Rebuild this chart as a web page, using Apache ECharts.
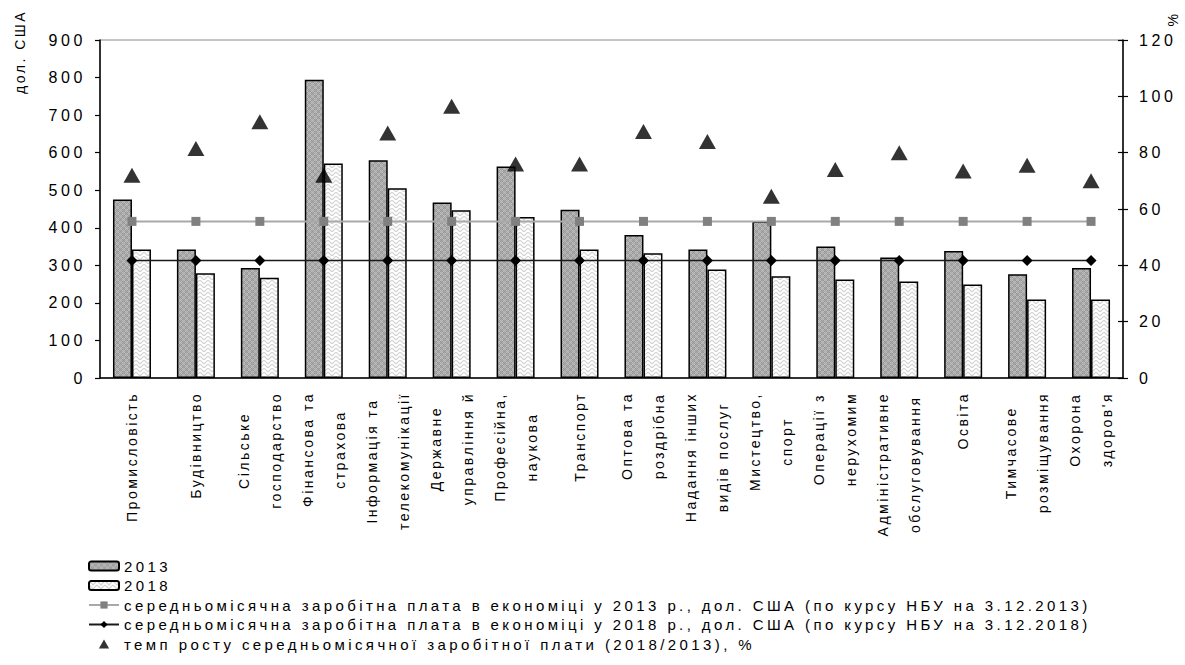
<!DOCTYPE html>
<html><head><meta charset="utf-8">
<script src="https://cdn.jsdelivr.net/npm/echarts@6/dist/echarts.min.js"></script>
<style>html,body{margin:0;padding:0;background:#fff}#chart{width:1185px;height:665px}</style>
</head><body><div id="chart"></div>
<script>
const categories = [
  'Промисловість', 'Будівництво', 'Сільське\nгосподарство', 'Фінансова та\nстрахова',
  'Інформація та\nтелекомунікації', 'Державне\nуправління й', 'Професійна,\nнаукова', 'Транспорт',
  'Оптова та\nроздрібна', 'Надання інших\nвидів послуг', 'Мистецтво,\nспорт', 'Операції з\nнерухомим',
  'Адміністративне\nобслуговування', 'Освіта', 'Тимчасове\nрозміщування', "Охорона\nздоров'я"
];
const wage2013 = [475, 342, 293, 794, 580, 467, 563, 448, 381, 342, 417, 350, 321, 338, 276, 293];
const wage2018 = [342, 279, 267, 571, 505, 447, 429, 342, 332, 289, 271, 262, 257, 249, 209, 209];
const avg2013 = [417, 417, 417, 417, 417, 417, 417, 417, 417, 417, 417, 417, 417, 417, 417, 417];
const avg2018 = [313, 313, 313, 313, 313, 313, 313, 313, 313, 313, 313, 313, 313, 313, 313, 313];
const growth = [72, 81.5, 91, 72, 87, 96.5, 76, 76, 87.5, 84, 64.5, 74, 80, 73.5, 75.5, 70];
const seriesNames = [
  '2013', '2018',
  'середньомісячна заробітна плата в економіці у 2013 р., дол. США (по курсу НБУ на 3.12.2013)',
  'середньомісячна заробітна плата в економіці у 2018 р., дол. США (по курсу НБУ на 3.12.2018)',
  'темп росту середньомісячної заробітної плати (2018/2013), %'
];
const leftAxisName = 'дол. США';
const rightAxisName = '%';

const FONT = 'Liberation Sans';
const SPACING = {14: 2.5, 15: 3.4, 16: 3.6};

function makePattern(w, h, draw) {
  const c = document.createElement('canvas');
  c.width = w; c.height = h;
  const ctx = c.getContext('2d');
  draw(ctx);
  return {image: c.toDataURL(), repeat: 'repeat', imageWidth: w, imageHeight: h};
}
const pat2013 = makePattern(6, 6, ctx => {
  ctx.fillStyle = '#aaaaaa'; ctx.fillRect(0, 0, 6, 6);
  for (let x = 0; x < 6; x++) for (let y = 0; y < 6; y++) {
    if ((x + y) % 3 === 0 || ((x - y + 6) % 3 === 0)) { ctx.fillStyle = (x + y) % 2 ? '#999999' : '#bdbdbd'; ctx.fillRect(x, y, 1, 1); }
  }
});
const pat2018 = makePattern(8, 8, ctx => {
  ctx.fillStyle = '#ffffff'; ctx.fillRect(0, 0, 8, 8);
  ctx.strokeStyle = '#d4d4d4'; ctx.lineWidth = 1.2;
  ctx.beginPath(); ctx.moveTo(0, 0); ctx.lineTo(4, 4); ctx.lineTo(8, 0);
  ctx.moveTo(0, 4); ctx.lineTo(4, 8); ctx.lineTo(8, 4); ctx.stroke();
});

// rich styles: lines of each category label centered within their (letter-spaced) block
const mctx = document.createElement('canvas').getContext('2d');
mctx.font = '14px "' + FONT + '"';
const rich = {};
categories.forEach((c, i) => {
  const lines = c.split('\n');
  const ws = lines.map(l => mctx.measureText(l).width + SPACING[14] * l.length);
  const bw = Math.max(...ws);
  lines.forEach((l, j) => {
    rich['b' + i + '_' + j] = {width: ws[j], padding: [0, 0, 0, (bw - ws[j]) / 2], align: 'left',
      lineHeight: 32, fontSize: 14, fontFamily: FONT, color: '#000'};
  });
});

const chart = echarts.init(document.getElementById('chart'), null, {renderer: 'svg'});
chart.setOption({
  animation: false,
  textStyle: {fontFamily: FONT, color: '#000'},
  grid: {left: 100, right: 62, top: 40, bottom: 287, show: true, borderColor: '#8c8c8c', borderWidth: 1},
  legend: {
    orient: 'vertical', left: 88, top: 558, padding: 0, itemWidth: 30, itemHeight: 9, itemGap: 3.5,
    textStyle: {fontSize: 15, fontFamily: FONT, color: '#000', lineHeight: 16},
    data: [seriesNames[0], seriesNames[1], seriesNames[2], seriesNames[3],
      {name: seriesNames[4], icon: 'path://M0,15L8.5,0L17,15Z'}]
  },
  graphic: [
    {type: 'text', x: 20, y: 10, rotation: Math.PI / 2,
      style: {text: leftAxisName, fontSize: 14, fontFamily: FONT, fill: '#000', align: 'right', verticalAlign: 'middle'}},
    {type: 'text', x: 1173, y: 19, rotation: Math.PI / 2,
      style: {text: rightAxisName, fontSize: 14, fontFamily: FONT, fill: '#000', align: 'center', verticalAlign: 'middle'}}
  ],
  xAxis: {
    type: 'category', data: categories, boundaryGap: true,
    axisLine: {lineStyle: {color: '#000', width: 1.5}},
    axisTick: {length: 5, lineStyle: {color: '#000', width: 1.2}},
    axisLabel: {
      interval: 0, rotate: 90, margin: 14, rich: rich,
      formatter: (v, i) => v.split('\n').map((l, j) => '{b' + i + '_' + j + '|' + l + '}').join('\n')
    }
  },
  yAxis: [
    {type: 'value', min: 0, max: 900, interval: 100,
      axisLine: {show: true, lineStyle: {color: '#000', width: 1.5}},
      axisTick: {show: true, length: 5, lineStyle: {color: '#000', width: 1.2}},
      splitLine: {show: false},
      axisLabel: {fontSize: 16, fontFamily: FONT, color: '#000', margin: 14}},
    {type: 'value', min: 0, max: 120, interval: 20, position: 'right',
      axisLine: {show: true, lineStyle: {color: '#000', width: 1.5}},
      axisTick: {show: true, length: 5, lineStyle: {color: '#000', width: 1.2}},
      splitLine: {show: false},
      axisLabel: {fontSize: 16, fontFamily: FONT, color: '#000', margin: 16}},
    {type: 'value', min: 0, max: 120, interval: 20, position: 'right',
      axisLine: {show: false},
      axisTick: {show: true, inside: true, length: 5, lineStyle: {color: '#000', width: 1.2}},
      splitLine: {show: false},
      axisLabel: {show: false}}
  ],
  series: [
    {name: seriesNames[0], type: 'bar', data: wage2013, barWidth: 19, barGap: '0%',
      itemStyle: {color: pat2013, borderColor: '#000', borderWidth: 1.5}},
    {name: seriesNames[1], type: 'bar', data: wage2018, barWidth: 19, barGap: '0%',
      itemStyle: {color: pat2018, borderColor: '#000', borderWidth: 1.5}},
    {name: seriesNames[2], type: 'line', data: avg2013, symbol: 'rect', symbolSize: 9, z: 5,
      lineStyle: {color: '#a9a9a9', width: 2}, itemStyle: {color: '#808080'}},
    {name: seriesNames[3], type: 'line', data: avg2018, symbol: 'diamond', symbolSize: 11, z: 6,
      lineStyle: {color: '#1a1a1a', width: 1.5}, itemStyle: {color: '#000'}},
    {name: seriesNames[4], type: 'scatter', data: growth, yAxisIndex: 1, symbol: 'triangle', symbolSize: [17, 15], z: 7,
      itemStyle: {color: '#000'}}
  ]
});

function applySpacing() {
  document.querySelectorAll('#chart svg text').forEach(t => {
    const fs = Math.round(parseFloat(getComputedStyle(t).fontSize));
    const ls = SPACING[fs];
    if (ls != null && t.getAttribute('letter-spacing') !== ls + 'px') t.setAttribute('letter-spacing', ls + 'px');
  });
}
chart.on('finished', applySpacing);
applySpacing();
new MutationObserver(applySpacing).observe(document.getElementById('chart'), {childList: true, subtree: true, attributes: true, attributeFilter: ['style', 'font-size']});
setTimeout(applySpacing, 0);
setTimeout(applySpacing, 200);
</script></body></html>
